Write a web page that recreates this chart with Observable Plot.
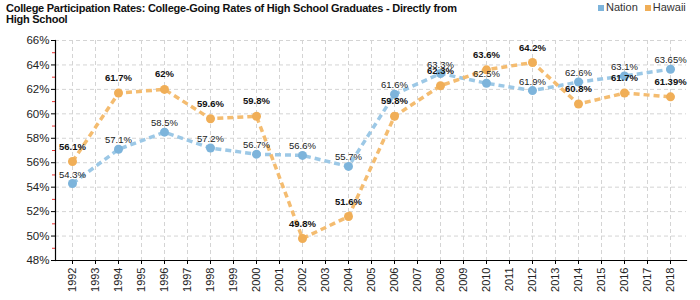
<!DOCTYPE html>
<html><head><meta charset="utf-8">
<script src="https://cdn.jsdelivr.net/npm/d3@7"></script>
<script src="https://cdn.jsdelivr.net/npm/@observablehq/plot@0.6"></script>
<style>
body{margin:0;background:#fff;font-family:"Liberation Sans",Arial,sans-serif}
#wrap{position:relative;width:700px;height:300px}
#title{position:absolute;left:6px;top:3px;font-size:11px;font-weight:bold;line-height:10.5px;color:#111;letter-spacing:-0.25px}
#legend{position:absolute;left:598px;top:1px;font-size:11px;color:#333;display:flex;gap:7px;align-items:center}
#legend span.sw{display:inline-block;width:6px;height:6px;margin-right:2px;vertical-align:middle}
#chart{position:absolute;left:0;top:0}
</style></head>
<body>
<div id="wrap">
<div id="chart"></div>
<div id="title">College Participation Rates: College-Going Rates of High School Graduates - Directly from<br>High School</div>
<div id="legend"></div>
</div>
<script>
const yearTicks = [1992,1993,1994,1995,1996,1997,1998,1999,2000,2001,2002,2003,2004,2005,2006,2007,2008,2009,2010,2011,2012,2013,2014,2015,2016,2017,2018];
const yTicks = [48,50,52,54,56,58,60,62,64,66];
const yMinorTicks = [49,51,53,55,57,59,61,63,65];
const dataYears = [1992,1994,1996,1998,2000,2002,2004,2006,2008,2010,2012,2014,2016,2018];
const nation = [54.3,57.1,58.5,57.2,56.7,56.6,55.7,61.6,63.3,62.5,61.9,62.6,63.1,63.65];
const hawaii = [56.1,61.7,62,59.6,59.8,49.8,51.6,59.8,62.3,63.6,64.2,60.8,61.7,61.39];
const nationLabels = ["54.3%","57.1%","58.5%","57.2%","56.7%","56.6%","55.7%","61.6%","63.3%","62.5%","61.9%","62.6%","63.1%","63.65%"];
const hawaiiLabels = ["56.1%","61.7%","62%","59.6%","59.8%","49.8%","51.6%","59.8%","62.3%","63.6%","64.2%","60.8%","61.7%","61.39%"];
const seriesNames = ["Nation","Hawaii"];
const lineColors = ["#9cc8e6","#f4bc70"];
const dotColors = ["#7db4db","#f0ae57"];

const nationData = dataYears.map((y,i)=>({year:y, value:nation[i], label:nationLabels[i]}));
const hawaiiData = dataYears.map((y,i)=>({year:y, value:hawaii[i], label:hawaiiLabels[i]}));

const chart = Plot.plot({
  width:700, height:300,
  marginLeft:55, marginRight:14, marginTop:40, marginBottom:40,
  style:{fontFamily:"Liberation Sans, Arial, sans-serif", background:"transparent", color:"#222"},
  x:{type:"point", domain:yearTicks, padding:0.5},
  y:{domain:[48,66]},
  marks:[
    Plot.gridY(yTicks, {stroke:"#d4d4d4", strokeOpacity:1, strokeDasharray:"4 3"}),
    Plot.gridX(yearTicks, {stroke:"#d4d4d4", strokeOpacity:1, strokeDasharray:"4 3"}),
    Plot.axisY(yMinorTicks, {tickSize:3, text:null, label:null, stroke:"#e33"}),
    Plot.axisY(yTicks, {tickSize:4, tickPadding:2, label:null, tickFormat:d=>d+"%", fontSize:11.5, stroke:"#000", fill:"#222"}),
    Plot.axisX(yearTicks, {tickSize:4, tickPadding:3, label:null, tickRotate:-90, tickFormat:d=>String(d), fontSize:11, stroke:"#000", fill:"#222"}),
    Plot.frame({anchor:"left", stroke:"#000", strokeWidth:1.2}),
    Plot.frame({anchor:"bottom", stroke:"#000", strokeWidth:1.2}),
    Plot.line(nationData, {x:"year", y:"value", stroke:lineColors[0], strokeWidth:3.5, strokeDasharray:"6 4", strokeLinecap:"butt"}),
    Plot.line(hawaiiData, {x:"year", y:"value", stroke:lineColors[1], strokeWidth:3.5, strokeDasharray:"6 4", strokeLinecap:"butt"}),
    Plot.dot(nationData, {x:"year", y:"value", r:4.5, fill:dotColors[0]}),
    Plot.dot(hawaiiData, {x:"year", y:"value", r:4.5, fill:dotColors[1]}),
    Plot.text(nationData, {x:"year", y:"value", text:"label", dy:-9, fontSize:9.5, fill:"#222"}),
    Plot.text(hawaiiData, {x:"year", y:"value", text:"label", dy:-15, fontSize:9.5, fontWeight:"bold", fill:"#111"})
  ]
});
document.getElementById("chart").appendChild(chart);

const legend = document.getElementById("legend");
seriesNames.forEach((n,i)=>{
  const item = document.createElement("div");
  item.innerHTML = `<span class="sw" style="background:${dotColors[i]}"></span>${n}`;
  legend.appendChild(item);
});
</script>
</body></html>
